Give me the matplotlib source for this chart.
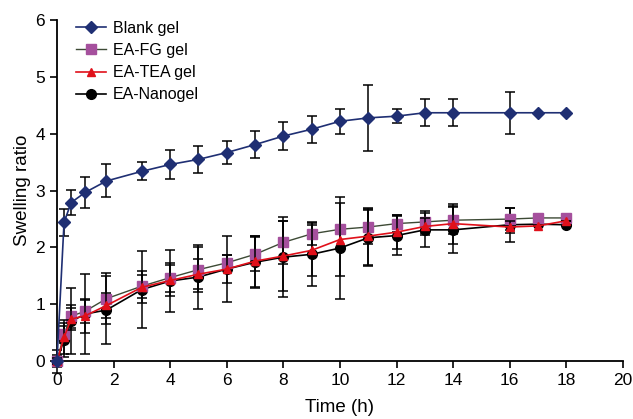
import matplotlib.pyplot as plt

plt.rcParams['font.family'] = ['Liberation Sans', 'DejaVu Sans']

# swelling of the gels over time
t_blank = [0, 0.25, 0.5, 1, 1.75, 3, 4, 5, 6, 7, 8, 9, 10, 11, 12, 13, 14, 16, 17, 18]
blank = [0, 2.44, 2.79, 2.97, 3.17, 3.34, 3.46, 3.55, 3.67, 3.81, 3.96, 4.08, 4.22, 4.28, 4.31, 4.37, 4.37, 4.37, 4.37, 4.37]
blank_err = [0, 0.23, 0.22, 0.27, 0.29, 0.16, 0.25, 0.24, 0.2, 0.24, 0.25, 0.24, 0.22, 0.58, 0.12, 0.24, 0.24, 0.37, 0, 0]

t = [0, 0.25, 0.5, 1, 1.75, 3, 4, 5, 6, 7, 8, 9, 10, 11, 12, 13, 14, 16, 17, 18]
fg = [0, 0.47, 0.79, 0.88, 1.10, 1.32, 1.47, 1.61, 1.73, 1.88, 2.09, 2.24, 2.32, 2.36, 2.42, 2.45, 2.48, 2.50, 2.52, 2.52]
fg_err = [0.1, 0.15, 0.2, 0.2, 0.45, 0.2, 0.25, 0.4, 0.13, 0.3, 0.38, 0.2, 0.05, 0.3, 0.15, 0.2, 0.25, 0.2, 0, 0]
tea = [0, 0.42, 0.74, 0.80, 0.98, 1.30, 1.42, 1.53, 1.62, 1.76, 1.85, 1.95, 2.14, 2.20, 2.27, 2.37, 2.42, 2.36, 2.38, 2.47]
tea_err = [0.05, 0.3, 0.2, 0.3, 0.22, 0.28, 0.28, 0.26, 0.25, 0.45, 0.62, 0.45, 0.65, 0.5, 0.3, 0.15, 0.35, 0.1, 0, 0]
nano = [0, 0.38, 0.70, 0.83, 0.90, 1.26, 1.41, 1.48, 1.62, 1.74, 1.83, 1.88, 1.99, 2.17, 2.21, 2.31, 2.31, 2.40, 2.41, 2.40]
nano_err = [0.2, 0.3, 0.58, 0.7, 0.6, 0.68, 0.55, 0.57, 0.58, 0.46, 0.7, 0.55, 0.9, 0.5, 0.35, 0.3, 0.4, 0.3, 0, 0]

fig, ax = plt.subplots(figsize=(6.33, 4.19), dpi=100)
fig.subplots_adjust(left=0.09, right=0.984, top=0.952, bottom=0.138)

eb = dict(ecolor='black', elinewidth=1.1, capsize=3.5, capthick=1.1, clip_on=False)
ax.errorbar(t, nano, yerr=nano_err, color='black', lw=1.2, marker='o', ms=7,
            label='EA-Nanogel', zorder=3, **eb)
ax.errorbar(t, tea, yerr=tea_err, color='#e0101a', lw=1.2, marker='^', ms=6,
            label='EA-TEA gel', zorder=4, **eb)
ax.errorbar(t, fg, yerr=fg_err, color='#3d4a35', lw=1.0, marker='s', ms=6.5,
            mfc='#a5509d', mec='#a5509d', label='EA-FG gel', zorder=3, **eb)
ax.errorbar(t_blank, blank, yerr=blank_err, color='#1f2f73', lw=1.2, marker='D', ms=6,
            label='Blank gel', zorder=5, **eb)

ax.set_xlim(0, 20)
ax.set_ylim(0, 6)
ax.set_xticks(range(0, 21, 2))
ax.set_yticks(range(0, 7))
ax.spines['top'].set_visible(False)
ax.spines['right'].set_visible(False)
ax.spines['left'].set_linewidth(1.3)
ax.spines['bottom'].set_linewidth(1.3)
ax.tick_params(direction='out', length=5, width=1.2, labelsize=12.5)
ax.set_xlabel('Time (h)', fontsize=13.5, labelpad=8)
ax.set_ylabel('Swelling ratio', fontsize=13.5, labelpad=3)

handles, labels = ax.get_legend_handles_labels()
order = [3, 2, 1, 0]
ax.legend([handles[i][0] for i in order], [labels[i] for i in order],
          loc='upper left', bbox_to_anchor=(0.008, 1.04), frameon=False,
          fontsize=11.5, handlelength=1.9, handletextpad=0.4, labelspacing=0.45)

fig.savefig('out.png')
